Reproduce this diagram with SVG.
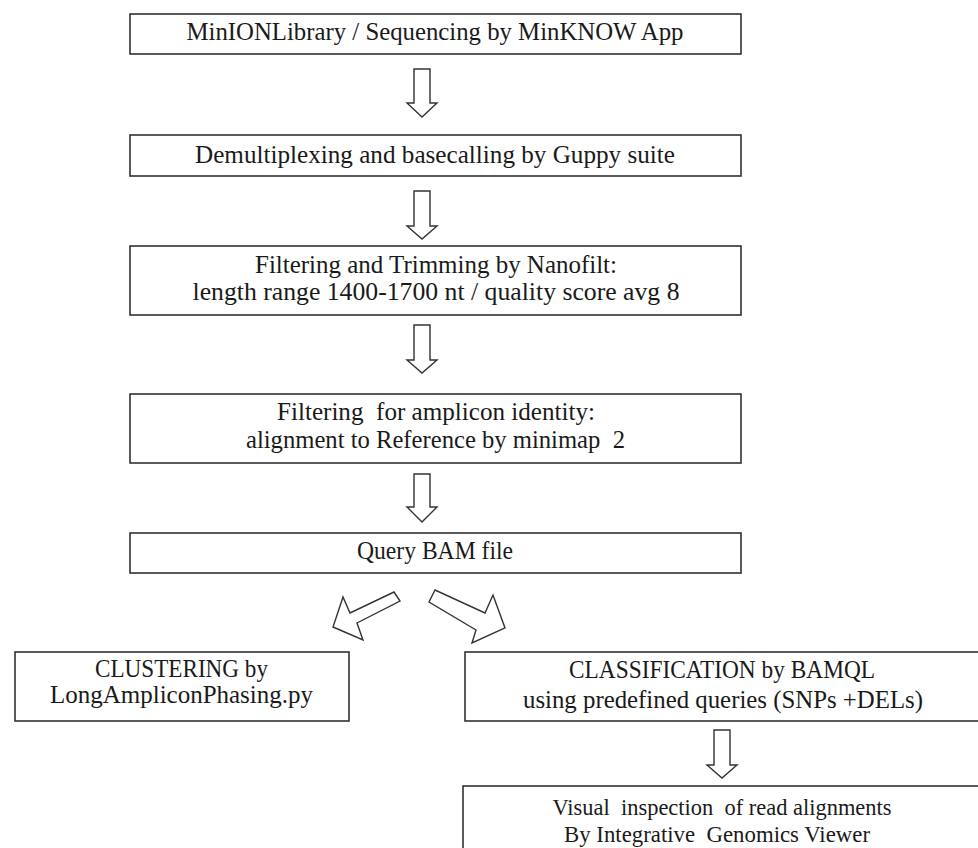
<svg xmlns="http://www.w3.org/2000/svg" width="978" height="848" viewBox="0 0 978 848">
<style>
.box{fill:#fff;stroke:#333;stroke-width:1.6}
.t{font-family:"Liberation Serif","Times New Roman",serif;font-size:25px;fill:#1a1a1a;text-anchor:middle;white-space:pre}
.t2{font-family:"Liberation Serif","Times New Roman",serif;font-size:23px;fill:#1a1a1a;text-anchor:middle;white-space:pre}
.arr{fill:#fff;stroke:#333;stroke-width:1.4;stroke-linejoin:miter}
</style>
<rect width="978" height="848" fill="#fff"/>
<g id="connectors">
<polygon class="arr" points="414,69 430,69 430,103 437,103 422,117 407,103 414,103"/>
<polygon class="arr" points="414,191 430,191 430,226 437,226 422,239 407,226 414,226"/>
<polygon class="arr" points="414,325 430,325 430,360 437,360 422,373 407,360 414,360"/>
<polygon class="arr" points="414,474 430,474 430,507 437,507 422,522 407,507 414,507"/>
<polygon class="arr" points="394,592 400,601 357,623 363,640 333,627 343,597 350,613"/>
<polygon class="arr" points="435,590 429,602 476,630 472,643 505,628 493,595 485,613"/>
<polygon class="arr" points="714,730 730,730 730,765 737,765 722,778 707,765 714,765"/>
</g>
<g id="n1">
<rect class="box" x="130" y="14" width="611" height="40"/>
<text class="t" x="435" y="40" textLength="497" lengthAdjust="spacingAndGlyphs">MinIONLibrary / Sequencing by MinKNOW App</text>
</g>
<g id="n2">
<rect class="box" x="130" y="135" width="611" height="41"/>
<text class="t" x="435" y="163" textLength="480" lengthAdjust="spacingAndGlyphs">Demultiplexing and basecalling by Guppy suite</text>
</g>
<g id="n3">
<rect class="box" x="130" y="246" width="611" height="69"/>
<text class="t" x="436" y="273" textLength="362" lengthAdjust="spacingAndGlyphs">Filtering and Trimming by Nanofilt:</text>
<text class="t" x="436" y="300" textLength="487" lengthAdjust="spacingAndGlyphs">length range 1400-1700 nt / quality score avg 8</text>
</g>
<g id="n4">
<rect class="box" x="130" y="394" width="611" height="69"/>
<text class="t" xml:space="preserve" x="436" y="420" textLength="318" lengthAdjust="spacingAndGlyphs">Filtering  for amplicon identity:</text>
<text class="t" xml:space="preserve" x="435.5" y="448" textLength="379" lengthAdjust="spacingAndGlyphs">alignment to Reference by minimap  2</text>
</g>
<g id="n5">
<rect class="box" x="130" y="533" width="611" height="40"/>
<text class="t" x="435" y="559" textLength="156" lengthAdjust="spacingAndGlyphs">Query BAM file</text>
</g>
<g id="n6">
<rect class="box" x="15" y="652" width="334" height="69"/>
<text class="t" x="181.5" y="677" textLength="173" lengthAdjust="spacingAndGlyphs">CLUSTERING by</text>
<text class="t" x="181.5" y="703" textLength="263" lengthAdjust="spacingAndGlyphs">LongAmpliconPhasing.py</text>
</g>
<g id="n7">
<rect class="box" x="465" y="652" width="530" height="69"/>
<text class="t" x="722" y="678" textLength="306" lengthAdjust="spacingAndGlyphs">CLASSIFICATION by BAMQL</text>
<text class="t" x="723" y="708" textLength="400" lengthAdjust="spacingAndGlyphs">using predefined queries (SNPs +DELs)</text>
</g>
<g id="n8">
<rect class="box" x="463" y="786" width="530" height="80"/>
<text class="t2" xml:space="preserve" x="722" y="815" textLength="339" lengthAdjust="spacingAndGlyphs">Visual  inspection  of read alignments</text>
<text class="t2" xml:space="preserve" x="717" y="842" textLength="306" lengthAdjust="spacingAndGlyphs">By Integrative  Genomics Viewer</text>
</g>
</svg>
